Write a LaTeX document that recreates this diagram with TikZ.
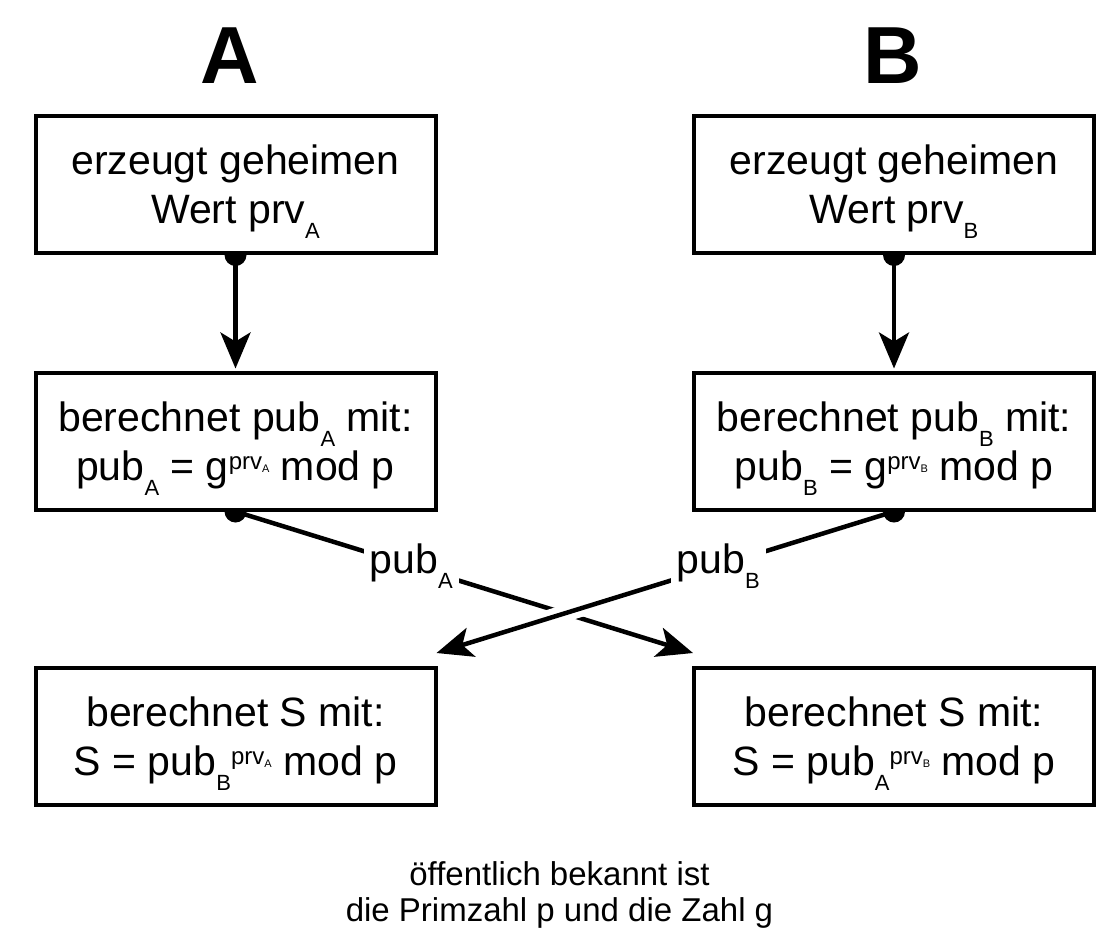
\documentclass[tikz,border=0pt]{standalone}
\usepackage{fontspec}
\setmainfont{Liberation Sans}
\usetikzlibrary{arrows.meta,calc}
\pgfdeclarelayer{bg}
\pgfsetlayers{bg,main}
\newcommand\sbs[1]{\raisebox{-15pt}{\fontsize{22pt}{22pt}\selectfont #1}}
\newcommand\sps[2]{\raisebox{11pt}{\fontsize{24pt}{24pt}\selectfont #1\raisebox{-3pt}{\fontsize{11pt}{11pt}\selectfont #2}}}
\newcommand\tallstrut{\rule{0pt}{44pt}}
\begin{document}
\begin{tikzpicture}[x=1pt,y=-1pt,
  box/.style={draw, line width=4pt, fill=white, minimum width=400pt, minimum height=137pt,
    inner sep=0pt, align=center, font=\fontsize{41pt}{49pt}\selectfont},
  head/.style={font=\fontsize{81pt}{81pt}\selectfont\bfseries, inner sep=0pt, anchor=base},
  conn/.style={line width=4.5pt, -{Stealth[length=36pt,width=30pt,inset=9pt]}},
  dotnode/.style={circle, fill=black, inner sep=0pt, minimum size=22pt},
  lbl/.style={fill=white, inner sep=6pt, font=\fontsize{41pt}{49pt}\selectfont},
  halo/.style={white, line width=17pt},
  note/.style={align=center, inner sep=0pt, anchor=north, font=\fontsize{33pt}{36pt}\selectfont}
]
\useasboundingbox (0,0) rectangle (1119,943);

\node[head] (ha) at (230,83) {A};
\node[head] (hb) at (893,83) {B};

\node[box] (a1) at (235.5,184.5) {\tallstrut erzeugt geheimen\\Wert prv\sbs{A}};
\node[box] (b1) at (894,184.5) {\tallstrut erzeugt geheimen\\Wert prv\sbs{B}};
\node[box] (a2) at (235.5,441) {\tallstrut berechnet pub\sbs{A} mit:\\pub\sbs{A} = g\sps{prv}{A} mod p};
\node[box] (b2) at (894,441) {\tallstrut berechnet pub\sbs{B} mit:\\pub\sbs{B} = g\sps{prv}{B} mod p};
\node[box] (a3) at (235.5,736) {\tallstrut berechnet S mit:\\S = pub\sbs{B}\sps{prv}{A} mod p};
\node[box] (b3) at (894,736) {\tallstrut berechnet S mit:\\S = pub\sbs{A}\sps{prv}{B} mod p};

\node[note] (nt) at (559.5,861) {öffentlich bekannt ist\\die Primzahl p und die Zahl g};

\coordinate (tA) at (693,653);
\coordinate (tB) at (436.5,653);

\begin{pgfonlayer}{bg}
  \fill[white] (0,0) rectangle (1119,943);
  \node[dotnode] (da1) at (a1.south) {};
  \node[dotnode] (db1) at (b1.south) {};
  \node[dotnode] (da2) at (a2.south) {};
  \node[dotnode] (db2) at (b2.south) {};
\end{pgfonlayer}

\draw[conn, shorten >=2pt] (a1.south) -- (a2.north);
\draw[conn, shorten >=2pt] (b1.south) -- (b2.north);

\draw[conn] (a2.south) -- (tA) node[lbl, pos=0.384] (la) {pub\sbs{A}};
\draw[halo] ($(b2.south)!0.64!(tB)$) -- ($(b2.south)!0.80!(tB)$);
\draw[conn] (b2.south) -- (tB) node[lbl, pos=0.384] (lb) {pub\sbs{B}};
\end{tikzpicture}
\end{document}
